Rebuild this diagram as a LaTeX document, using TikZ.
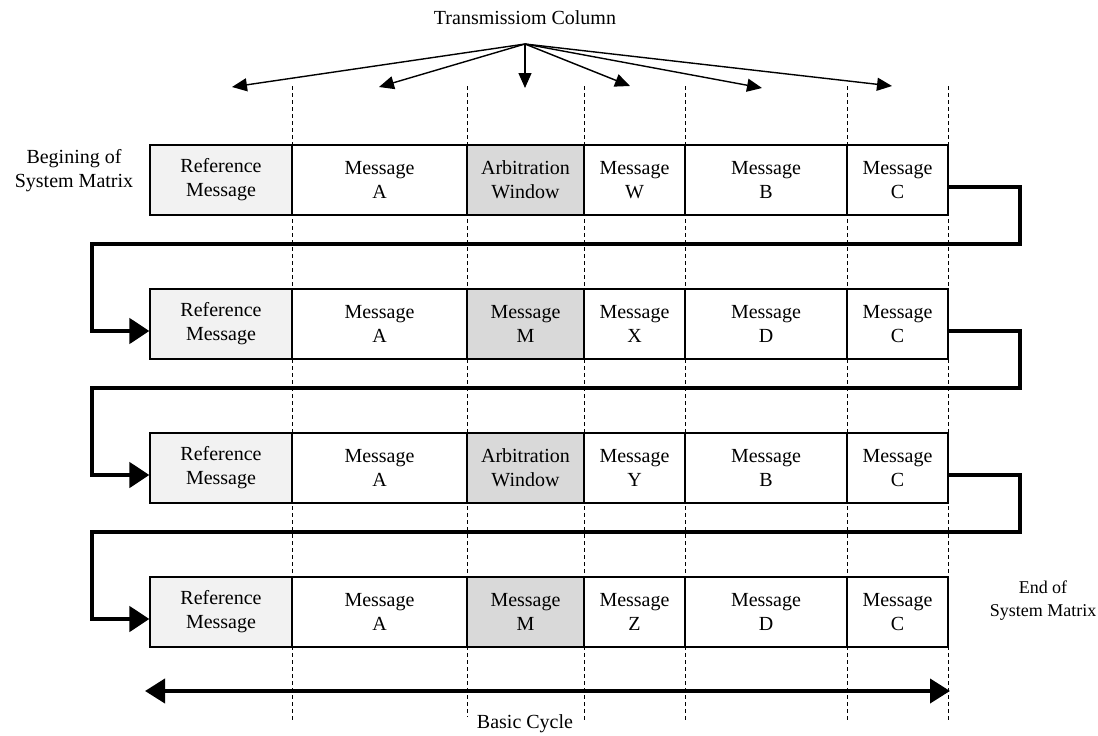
\documentclass[tikz,border=0pt]{standalone}
\usepackage{fontspec}
\setmainfont{Liberation Serif}
\usetikzlibrary{arrows.meta}
\definecolor{refgray}{HTML}{F2F2F2}
\definecolor{arbgray}{HTML}{D9D9D9}
\begin{document}
\begin{tikzpicture}[x=1pt,y=-1pt,
  txt/.style={font=\fontsize{20}{24}\selectfont, align=center, inner sep=0pt},
  cell/.style={txt, draw, line width=1.2pt, minimum height=70pt, anchor=center},
  refcell/.style={cell, fill=refgray},
  arbcell/.style={cell, fill=arbgray},
  plaincell/.style={cell, fill=white},
  colline/.style={dashed, dash pattern=on 4pt off 3pt, line width=0.9pt},
  pointer/.style={line width=1.4pt, -{Triangle[length=15pt,width=13pt]}},
  conn/.style={line width=4.5pt, line join=miter, -{Triangle[length=20pt,width=25pt]}},
  span/.style={line width=4pt, {Triangle[length=20pt,width=24pt]}-{Triangle[length=20pt,width=24pt]}}
]
\useasboundingbox (0,0) rectangle (1098,736);

% column boundaries
\foreach \x/\yb in {292/720, 467/717, 584/720, 685/720, 847/720, 948/720}
  \draw[colline] (\x,86) -- (\x,\yb);

% title and its pointers
\node[txt] (title) at (525,18) {Transmissiom Column};
\coordinate (hub) at (525,44);
\foreach \n/\x/\y in {p1/232/87, p2/379/87, p3/525/88, p4/630/86, p5/762/88, p6/892/86}
  \coordinate (\n) at (\x,\y);
\foreach \n in {p1,p2,p3,p4,p5,p6}
  \draw[pointer] (hub) -- (\n);

% rows of the system matrix
\foreach \r/\yc/\ta/\tstyle/\tb/\tc in {
    1/180/{Arbitration\\Window}/arbcell/W/B,
    2/324/{Message\\M}/arbcell/X/D,
    3/468/{Arbitration\\Window}/arbcell/Y/B,
    4/612/{Message\\M}/arbcell/Z/D} {
  \node[refcell, minimum width=142pt] (r\r c1) at (221,\yc) {Reference\\Message};
  \node[plaincell, minimum width=175pt] (r\r c2) at (379.5,\yc) {Message\\A};
  \node[\tstyle, minimum width=117pt] (r\r c3) at (525.5,\yc) {\ta};
  \node[plaincell, minimum width=101pt] (r\r c4) at (634.5,\yc) {Message\\\tb};
  \node[plaincell, minimum width=162pt] (r\r c5) at (766,\yc) {Message\\\tc};
  \node[plaincell, minimum width=101pt] (r\r c6) at (897.5,\yc) {Message\\C};
  \coordinate (out\r) at ([yshift=-7pt]r\r c6.east);
  \coordinate (in\r) at ([yshift=-7pt]r\r c1.west);
}

% side labels
\node[txt] (begin) at (74,171) {Begining of\\System Matrix};
\node[txt, font=\fontsize{18}{23}\selectfont] (end) at (1043,601) {End of\\System Matrix};

% wrap-around connectors between rows
\foreach \r/\n/\ry in {1/2/244, 2/3/388, 3/4/532}
  \draw[conn] (out\r) -| (1020,\ry) -- (92,\ry) |- (in\n);

% basic cycle span
\coordinate (cycL) at (145,691);
\coordinate (cycR) at (950,691);
\draw[span] (cycL) -- (cycR);
\node[txt, fill=white, inner sep=1pt] (cycle) at (525,724) {Basic Cycle};
\end{tikzpicture}
\end{document}
